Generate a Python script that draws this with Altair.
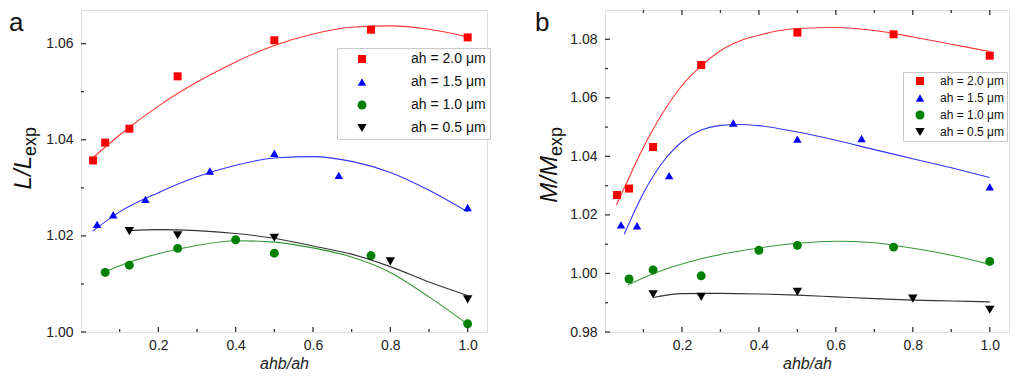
import altair as alt
import pandas as pd

FONT = "Liberation Sans"

series = ["ah = 2.0 μm", "ah = 1.5 μm", "ah = 1.0 μm", "ah = 0.5 μm"]
colors = ["#FF0000", "#0000FF", "#008000", "#000000"]
shapes = ["square", "triangle-up", "circle", "triangle-down"]
marker_sizes = [64, 88, 64, 88]

# ---------------- panel a : L / L_exp ----------------
a_x_20 = [0.03125, 0.0625, 0.125, 0.25, 0.5, 0.75, 1.0]
a_y_20 = [1.0357, 1.0394, 1.0423, 1.0532, 1.0607, 1.0629, 1.0613]
a_x_15 = [0.0417, 0.0833, 0.1667, 0.3333, 0.5, 0.6667, 1.0]
a_y_15 = [1.0224, 1.0244, 1.0276, 1.0335, 1.0372, 1.0326, 1.0259]
a_x_10 = [0.0625, 0.125, 0.25, 0.4, 0.5, 0.75, 1.0]
a_y_10 = [1.0124, 1.0139, 1.0174, 1.0192, 1.0164, 1.0159, 1.0017]
a_x_05 = [0.125, 0.25, 0.5, 0.8, 1.0]
a_y_05 = [1.0210, 1.0201, 1.0196, 1.0147, 1.0068]

# fitted curves
a_fx_20 = [0.03, 0.1, 0.2, 0.3, 0.4, 0.5, 0.6, 0.7, 0.8, 0.9, 1.0]
a_fy_20 = [1.0362, 1.0410, 1.0470, 1.0520, 1.0562, 1.0596, 1.0620, 1.0634, 1.0637, 1.0630, 1.0614]
a_fx_15 = [0.03, 0.1, 0.2, 0.3, 0.4, 0.5, 0.6, 0.7, 0.8, 0.9, 1.0]
a_fy_15 = [1.0210, 1.0250, 1.0290, 1.0323, 1.0347, 1.0362, 1.0365, 1.0355, 1.0332, 1.0295, 1.0250]
a_fx_10 = [0.0625, 0.1, 0.2, 0.3, 0.4, 0.5, 0.6, 0.7, 0.8, 0.9, 1.0]
a_fy_10 = [1.0125, 1.0138, 1.0163, 1.0180, 1.0190, 1.0187, 1.0175, 1.0156, 1.0124, 1.0073, 1.0016]
a_fx_05 = [0.125, 0.2, 0.3, 0.4, 0.5, 0.6, 0.7, 0.8, 0.9, 1.0]
a_fy_05 = [1.0211, 1.0213, 1.0211, 1.0205, 1.0195, 1.0179, 1.0162, 1.0136, 1.0104, 1.0076]

# ---------------- panel b : M / M_exp ----------------
b_x_20 = [0.03125, 0.0625, 0.125, 0.25, 0.5, 0.75, 1.0]
b_y_20 = [1.0268, 1.0290, 1.0432, 1.0712, 1.0823, 1.0817, 1.0744]
b_x_15 = [0.0417, 0.0833, 0.1667, 0.3333, 0.5, 0.6667, 1.0]
b_y_15 = [1.0166, 1.0163, 1.0334, 1.0514, 1.0459, 1.0461, 1.0296]
b_x_10 = [0.0625, 0.125, 0.25, 0.4, 0.5, 0.75, 1.0]
b_y_10 = [0.9981, 1.0012, 0.9992, 1.0079, 1.0096, 1.0090, 1.0041]
b_x_05 = [0.125, 0.25, 0.5, 0.8, 1.0]
b_y_05 = [0.9929, 0.9920, 0.9937, 0.9914, 0.9876]

b_fx_20 = [0.03, 0.05, 0.1, 0.15, 0.2, 0.25, 0.3, 0.35, 0.4, 0.45, 0.5, 0.6, 0.7, 0.8, 0.9, 1.0]
b_fy_20 = [1.0235, 1.0292, 1.0431, 1.0548, 1.0642, 1.0709, 1.0761, 1.0794, 1.0814, 1.0829, 1.0837, 1.0840, 1.0830, 1.0808, 1.0783, 1.0758]
b_fx_15 = [0.05, 0.1, 0.15, 0.2, 0.25, 0.3, 0.35, 0.4, 0.5, 0.6, 0.7, 0.8, 0.9, 1.0]
b_fy_15 = [1.0134, 1.0275, 1.0380, 1.0450, 1.0490, 1.0506, 1.0509, 1.0505, 1.0483, 1.0455, 1.0423, 1.0392, 1.0361, 1.0328]
b_fx_10 = [0.06, 0.125, 0.25, 0.4, 0.5, 0.6, 0.7, 0.8, 0.9, 1.0]
b_fy_10 = [0.9961, 0.9999, 1.0050, 1.0087, 1.0103, 1.0110, 1.0105, 1.0086, 1.0062, 1.0031]
b_fx_05 = [0.125, 0.2, 0.3, 0.4, 0.5, 0.6, 0.7, 0.8, 0.9, 1.0]
b_fy_05 = [0.9918, 0.9931, 0.9932, 0.9930, 0.9926, 0.9920, 0.9914, 0.9909, 0.9906, 0.9903]

# axis ticks
x_major = [0.2, 0.4, 0.6, 0.8, 1.0]
x_minor = [0.1, 0.3, 0.5, 0.7, 0.9]
a_y_major = [1.00, 1.02, 1.04, 1.06]
a_y_minor = [1.01, 1.03, 1.05]
b_y_major = [0.98, 1.00, 1.02, 1.04, 1.06, 1.08]
b_y_minor = [0.99, 1.01, 1.03, 1.05, 1.07]

X_DOMAIN = [0.0, 1.05]
A_Y_DOMAIN = [1.0, 1.067]
B_Y_DOMAIN = [0.98, 1.09]

H = 322
WA = 406
WB = 404


def frame(xs_list, ys_list):
    rows = []
    for s, xs, ys in zip(series, xs_list, ys_list):
        for xv, yv in zip(xs, ys):
            rows.append({"series": s, "x": xv, "y": yv})
    return pd.DataFrame(rows)


def panel(pts, fit_x, fit_y, ydom, yvals, yminor, width, letter, ytitle, legend_xy,
          legend_font, legend_pad, legend_rowpad, legend_symoff, legend_laboff,
          top_ticks, label_x, ytitle_x):
    xs = alt.Scale(domain=X_DOMAIN, nice=False, zero=False)
    ys = alt.Scale(domain=ydom, nice=False, zero=False)
    leg = alt.Legend(orient="none", legendX=legend_xy[0], legendY=legend_xy[1],
                     title=None, labelFont=FONT, labelFontSize=legend_font,
                     labelColor="#111", padding=legend_pad,
                     rowPadding=legend_rowpad, symbolOffset=legend_symoff,
                     labelOffset=legend_laboff, strokeColor="#c8c8c8",
                     fillColor="white", symbolStrokeWidth=0)
    xaxis = alt.Axis(values=x_major, format=".1f", ticks=False, domain=False, grid=False,
                     labelFont=FONT, labelFontSize=14, labelColor="#222", labelPadding=6,
                     title="ahb/ah", titleFont=FONT, titleFontSize=16, titleFontStyle="italic",
                     titleFontWeight="normal", titleColor="#222", titlePadding=3)
    yaxis = alt.Axis(values=yvals, format=".2f", ticks=False, domain=False, grid=False,
                     labelFont=FONT, labelFontSize=14, labelColor="#222", labelPadding=8,
                     title=None)

    points = alt.Chart(pts).mark_point(filled=True, opacity=1, strokeWidth=0).encode(
        x=alt.X("x:Q", scale=xs, axis=xaxis),
        y=alt.Y("y:Q", scale=ys, axis=yaxis),
        color=alt.Color("series:N", scale=alt.Scale(domain=series, range=colors), sort=series, legend=leg),
        shape=alt.Shape("series:N", scale=alt.Scale(domain=series, range=shapes), sort=series, legend=leg),
        size=alt.Size("series:N", scale=alt.Scale(domain=series, range=marker_sizes), sort=series, legend=leg),
    )

    line_layers = []
    for c, fx, fy in zip(colors, fit_x, fit_y):
        line_layers.append(
            alt.Chart(pd.DataFrame({"x": fx, "y": fy})).mark_line(
                strokeWidth=1.1, opacity=0.8, interpolate="monotone", color=c).encode(
                x=alt.X("x:Q", scale=xs), y=alt.Y("y:Q", scale=ys))
        )

    tick_col = "#333333"
    xmaj = alt.Chart(pd.DataFrame({"v": x_major})).mark_rule(color=tick_col, strokeWidth=1.3).encode(
        x=alt.X("v:Q", scale=xs), y=alt.value(H), y2=alt.value(H - 5))
    xmin = alt.Chart(pd.DataFrame({"v": x_minor})).mark_rule(color=tick_col, strokeWidth=1.3).encode(
        x=alt.X("v:Q", scale=xs), y=alt.value(H), y2=alt.value(H - 3))
    ymaj = alt.Chart(pd.DataFrame({"v": yvals})).mark_rule(color=tick_col, strokeWidth=1.3).encode(
        y=alt.Y("v:Q", scale=ys), x=alt.value(0), x2=alt.value(5))
    ymin_ = alt.Chart(pd.DataFrame({"v": yminor})).mark_rule(color=tick_col, strokeWidth=1.3).encode(
        y=alt.Y("v:Q", scale=ys), x=alt.value(0), x2=alt.value(3))
    tick_layers = [xmaj, xmin, ymaj, ymin_]
    if top_ticks:
        tick_layers.append(alt.Chart(pd.DataFrame({"v": x_major})).mark_rule(color=tick_col, strokeWidth=1.3).encode(
            x=alt.X("v:Q", scale=xs), y=alt.value(0), y2=alt.value(5)))
        tick_layers.append(alt.Chart(pd.DataFrame({"v": x_minor})).mark_rule(color=tick_col, strokeWidth=1.3).encode(
            x=alt.X("v:Q", scale=xs), y=alt.value(0), y2=alt.value(3)))

    let = alt.Chart(pd.DataFrame({"t": [letter]})).mark_text(
        font=FONT, fontSize=26, align="left", baseline="top", color="#111").encode(
        text="t:N", x=alt.value(label_x), y=alt.value(0))
    yt_main = alt.Chart(pd.DataFrame({"t": [ytitle]})).mark_text(
        font=FONT, fontSize=24, fontStyle="italic", angle=270, align="right",
        baseline="alphabetic", color="#111").encode(
        text="t:N", x=alt.value(ytitle_x), y=alt.value(146))
    yt_sub = alt.Chart(pd.DataFrame({"t": ["exp"]})).mark_text(
        font=FONT, fontSize=18, angle=270, align="left",
        baseline="alphabetic", color="#111").encode(
        text="t:N", x=alt.value(ytitle_x + 5), y=alt.value(146))

    return alt.layer(points, *line_layers, *tick_layers, let, yt_main, yt_sub).properties(
        width=width, height=H)


pa = panel(frame([a_x_20, a_x_15, a_x_10, a_x_05], [a_y_20, a_y_15, a_y_10, a_y_05]),
           [a_fx_20, a_fx_15, a_fx_10, a_fx_05], [a_fy_20, a_fy_15, a_fy_10, a_fy_05],
           A_Y_DOMAIN, a_y_major, a_y_minor, WA, "a", "L/L", (256, 38),
           14, 4, 9, 14, 42, False, -72, -50)
pb = panel(frame([b_x_20, b_x_15, b_x_10, b_x_05], [b_y_20, b_y_15, b_y_10, b_y_05]),
           [b_fx_20, b_fx_15, b_fx_10, b_fx_05], [b_fy_20, b_fy_15, b_fy_10, b_fy_05],
           B_Y_DOMAIN, b_y_major, b_y_minor, WB, "b", "M/M", (298, 62),
           12, 3, 5, 8, 14, True, -70, -48)

chart = alt.hconcat(pa, pb, spacing=118, bounds="flush").resolve_scale(
    color="independent", shape="independent", size="independent", x="independent", y="independent"
).resolve_legend(color="independent", shape="independent", size="independent").properties(
    padding=0).configure_view(stroke="#333333", strokeWidth=1.5).configure(background="white")

chart.save("out.html", embed_options={"renderer": "svg", "actions": False})
